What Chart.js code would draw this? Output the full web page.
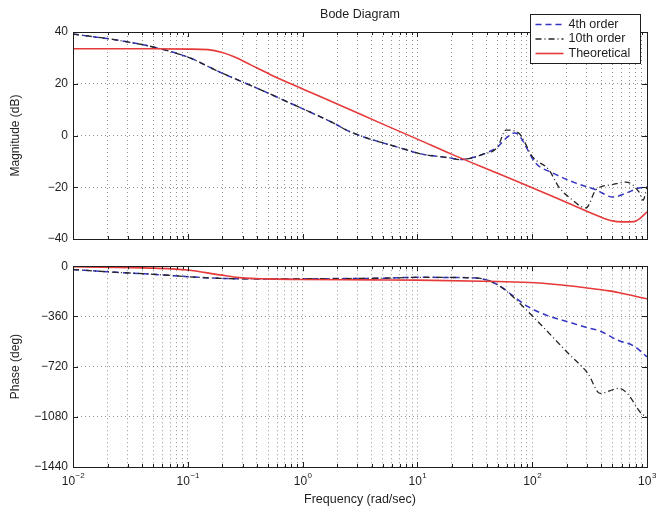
<!DOCTYPE html>
<html>
<head>
<meta charset="utf-8">
<title>Bode Diagram</title>
<script src="https://cdn.jsdelivr.net/npm/chart.js@4.4.1/dist/chart.umd.min.js"></script>
<style>
  html, body { margin: 0; padding: 0; background: #fff; }
  #wrap { position: relative; width: 670px; height: 508px; }
  #wrap canvas { position: absolute; left: 0; }
  #magChart { top: 0; }
  #phaseChart { top: 254px; }
</style>
</head>
<body>
<div id="wrap">
  <canvas id="magChart" width="670" height="254"></canvas>
  <canvas id="phaseChart" width="670" height="254"></canvas>
</div>
<script>
// ---- data (frequency in rad/sec) ----
const seriesNames = ['4th order', '10th order', 'Theoretical'];

// magnitude, dB
const mag4Freq  = [0.01, 0.024, 0.05, 0.1, 0.19, 0.4, 0.68, 1.86, 2.6, 7.1, 11, 19.5, 23, 30, 36, 50, 60, 70, 76, 107, 151, 240, 359, 505, 656, 851, 1000];
const mag4      = [39.2, 36.9, 34.2, 30.3, 24.5, 18.3, 13.7, 4.8, 1.4, -4.8, -7.2, -8.7, -9.3, -8.6, -7.5, -4.4, -0.8, 1.0, 0.3, -10.6, -14.5, -18.4, -21.0, -23.8, -22.3, -20.3, -19.9];
const mag10Freq = [0.01, 0.024, 0.05, 0.1, 0.19, 0.4, 0.68, 1.86, 2.6, 7.1, 11, 19.5, 23, 30, 36, 50, 59, 76, 101, 140, 171, 209, 294, 359, 500, 656, 851, 923, 1000];
const mag10     = [39.2, 36.9, 34.2, 30.3, 24.5, 18.3, 13.7, 4.8, 1.4, -4.8, -7.2, -8.7, -9.3, -8.6, -7.5, -4.4, 2.1, 1.0, -8.3, -13.3, -20.0, -23.8, -28.0, -21.0, -19.0, -18.0, -21.8, -25.0, -19.9];
const magThFreq = [0.01, 0.05, 0.1, 0.15, 0.2, 0.25, 0.35, 0.52, 1, 2, 5, 10, 20, 50, 100, 200, 400, 500, 600, 770, 870, 1000];
const magTh     = [33.5, 33.5, 33.4, 33.2, 32.1, 30.5, 27.4, 23.6, 18.0, 12.2, 4.4, -1.4, -7.3, -14.6, -20.2, -25.9, -31.6, -33.0, -33.4, -33.3, -32.0, -29.5];

// phase, deg
const ph4Freq  = [0.01, 0.02, 0.05, 0.1, 0.2, 0.5, 1, 5, 10, 27, 40, 53, 65, 92, 138, 204, 279, 397, 557, 770, 1000];
const ph4      = [-24, -40, -58, -75, -88, -91, -90, -86, -80, -82, -98, -145, -200, -290, -356, -398, -433, -468, -531, -573, -650];
const ph10Freq = [0.01, 0.02, 0.05, 0.1, 0.2, 0.5, 1, 5, 10, 27, 40, 53, 65, 107, 209, 306, 390, 570, 680, 890, 1000];
const ph10     = [-24, -40, -58, -75, -88, -91, -90, -86, -80, -82, -98, -147, -205, -380, -630, -770, -912, -876, -916, -1055, -1080];
const phThFreq = [0.01, 0.05, 0.1, 0.19, 0.3, 0.5, 1, 4, 10, 50, 107, 209, 280, 470, 560, 1000];
const phTh     = [-4, -14, -27, -62, -84, -91, -95, -98, -100, -110, -119, -140, -153, -177, -189, -234];

// axis ticks
const decades = [0.01, 0.1, 1, 10, 100];
const steps = [1, 2, 3, 4, 5, 6, 7, 8, 9];
const freqTicks = decades.flatMap(d => steps.map(s => +(d * s).toPrecision(3))).concat([1000]);
const magTicks = [-40, -20, 0, 20, 40];
const phaseTicks = [-1440, -1080, -720, -360, 0];

const FONT = 'Liberation Sans, Arial, Helvetica, sans-serif';
const INK = '#1e1e1e';
const COLORS = { o4: '#3434c4', o10: '#262626', th: '#e63a3a' };

const isDecade = v => Math.abs(Math.log10(v) - Math.round(Math.log10(v))) < 1e-9;
const pts = (xs, ys) => xs.map((x, i) => ({ x, y: ys[i] }));
const minus = v => String(v).replace('-', '\u2212');

function makeSets(f4, v4, f10, v10, fth, vth) {
  return [
    { label: seriesNames[2], data: pts(fth, vth), borderColor: COLORS.th, borderWidth: 1.6, order: 0 },
    { label: seriesNames[1], data: pts(f10, v10), borderColor: COLORS.o10, borderWidth: 1.3, borderDash: [6, 3, 1, 3], order: 1 },
    { label: seriesNames[0], data: pts(f4, v4), borderColor: COLORS.o4, borderWidth: 1.5, borderDash: [6, 4], order: 2 }
  ].map(d => Object.assign(d, { fill: false, pointRadius: 0, cubicInterpolationMode: 'monotone' }));
}

function freqAxis(bottom) {
  return {
    type: 'logarithmic', min: 0.01, max: 1000,
    afterBuildTicks: s => { s.ticks = freqTicks.map(v => ({ value: v, major: isDecade(v) })); },
    afterFit: s => { s.height = bottom ? 41 : 0; },
    ticks: { display: false },
    title: bottom
      ? { display: true, text: 'Frequency (rad/sec)', color: INK, font: { family: FONT, size: 12.5 }, padding: { top: 0, bottom: 1 } }
      : { display: false },
    grid: { drawTicks: false, color: 'rgba(0,0,0,0.42)', lineWidth: 1 },
    border: { display: false, dash: [1, 3] }
  };
}

function valueAxis(tickVals, label) {
  return {
    min: tickVals[0], max: tickVals[tickVals.length - 1],
    afterBuildTicks: s => { s.ticks = tickVals.map(v => ({ value: v })); },
    afterFit: s => { s.width = 73; },
    ticks: { padding: 5, color: INK, font: { family: FONT, size: 12 }, callback: v => minus(v) },
    title: { display: true, text: label, color: INK, font: { family: FONT, size: 12 }, padding: { top: 8, bottom: 0 } },
    grid: { drawTicks: false, color: 'rgba(0,0,0,0.42)', lineWidth: 1 },
    border: { display: false, dash: [1, 3] }
  };
}

// axes box with inward tick marks, drawn over the curves
const framePlugin = {
  id: 'frame',
  afterDatasetsDraw(chart) {
    const { ctx, chartArea: a, scales } = chart;
    const seg = (x1, y1, x2, y2) => { ctx.moveTo(x1, y1); ctx.lineTo(x2, y2); };
    ctx.save();
    ctx.strokeStyle = INK;
    ctx.lineWidth = 1;
    ctx.beginPath();
    scales.x.ticks.forEach(t => {
      const x = Math.round(scales.x.getPixelForValue(t.value)) + 0.5;
      const len = t.major ? 5 : 3;
      seg(x, a.top, x, a.top + len);
      seg(x, a.bottom, x, a.bottom - len);
    });
    scales.y.ticks.forEach(t => {
      const y = Math.round(scales.y.getPixelForValue(t.value)) + 0.5;
      seg(a.left, y, a.left + 5, y);
      seg(a.right, y, a.right - 5, y);
    });
    ctx.stroke();
    ctx.strokeRect(Math.round(a.left) + 0.5, Math.round(a.top) + 0.5,
      Math.round(a.right - a.left), Math.round(a.bottom - a.top));
    ctx.restore();
  }
};

// "10" with a raised exponent under each decade
const decadeLabels = {
  id: 'decadeLabels',
  afterDraw(chart) {
    const { ctx, chartArea: a, scales } = chart;
    ctx.save();
    ctx.fillStyle = INK;
    ctx.textBaseline = 'alphabetic';
    scales.x.ticks.filter(t => t.major).forEach(t => {
      const x = scales.x.getPixelForValue(t.value);
      const base = '10';
      const exp = minus(Math.round(Math.log10(t.value)));
      ctx.font = '12px ' + FONT;
      const wb = ctx.measureText(base).width;
      ctx.font = '8px ' + FONT;
      const we = ctx.measureText(exp).width;
      const x0 = x - (wb + we) / 2;
      ctx.font = '12px ' + FONT;
      ctx.textAlign = 'left';
      ctx.fillText(base, x0, a.bottom + 18);
      ctx.font = '8px ' + FONT;
      ctx.fillText(exp, x0 + wb + 0.5, a.bottom + 11);
    });
    ctx.restore();
  }
};

const titlePlugin = {
  id: 'bodeTitle',
  afterDraw(chart) {
    const { ctx, chartArea: a } = chart;
    ctx.save();
    ctx.fillStyle = INK;
    ctx.font = '12.5px ' + FONT;
    ctx.textAlign = 'center';
    ctx.textBaseline = 'middle';
    ctx.fillText('Bode Diagram', (a.left + a.right) / 2, 15);
    ctx.restore();
  }
};

// boxed legend in the upper right corner
const boxLegend = {
  id: 'boxLegend',
  afterDraw(chart) {
    const { ctx } = chart;
    const box = { x: 530.5, y: 14.5, w: 110, h: 49 };
    const rows = [2, 1, 0]; // datasets listed as 4th, 10th, theoretical
    ctx.save();
    ctx.fillStyle = '#fff';
    ctx.fillRect(box.x, box.y, box.w, box.h);
    ctx.strokeStyle = INK;
    ctx.lineWidth = 1;
    ctx.strokeRect(box.x, box.y, box.w, box.h);
    ctx.font = '12.5px ' + FONT;
    ctx.textBaseline = 'middle';
    ctx.textAlign = 'left';
    rows.forEach((di, i) => {
      const ds = chart.data.datasets[di];
      const y = box.y + 10 + i * 14.5;
      ctx.beginPath();
      ctx.setLineDash(ds.borderDash || []);
      ctx.strokeStyle = ds.borderColor;
      ctx.lineWidth = ds.borderWidth;
      ctx.moveTo(box.x + 5, y);
      ctx.lineTo(box.x + 33, y);
      ctx.stroke();
      ctx.setLineDash([]);
      ctx.fillStyle = INK;
      ctx.fillText(ds.label, box.x + 38, y);
    });
    ctx.restore();
  }
};

const baseOptions = {
  responsive: false,
  animation: false,
  events: [],
  plugins: { legend: { display: false }, tooltip: { enabled: false } }
};

new Chart(document.getElementById('magChart'), {
  type: 'line',
  data: { datasets: makeSets(mag4Freq, mag4, mag10Freq, mag10, magThFreq, magTh) },
  options: Object.assign({}, baseOptions, {
    layout: { padding: { top: 32, right: 23, bottom: 15, left: 0 } },
    scales: { x: freqAxis(false), y: valueAxis(magTicks, 'Magnitude (dB)') }
  }),
  plugins: [framePlugin, titlePlugin, boxLegend]
});

new Chart(document.getElementById('phaseChart'), {
  type: 'line',
  data: { datasets: makeSets(ph4Freq, ph4, ph10Freq, ph10, phThFreq, phTh) },
  options: Object.assign({}, baseOptions, {
    layout: { padding: { top: 7, right: 23, bottom: 0, left: 0 } },
    scales: { x: freqAxis(true), y: valueAxis(phaseTicks, 'Phase (deg)') }
  }),
  plugins: [framePlugin, decadeLabels]
});
</script>
</body>
</html>
